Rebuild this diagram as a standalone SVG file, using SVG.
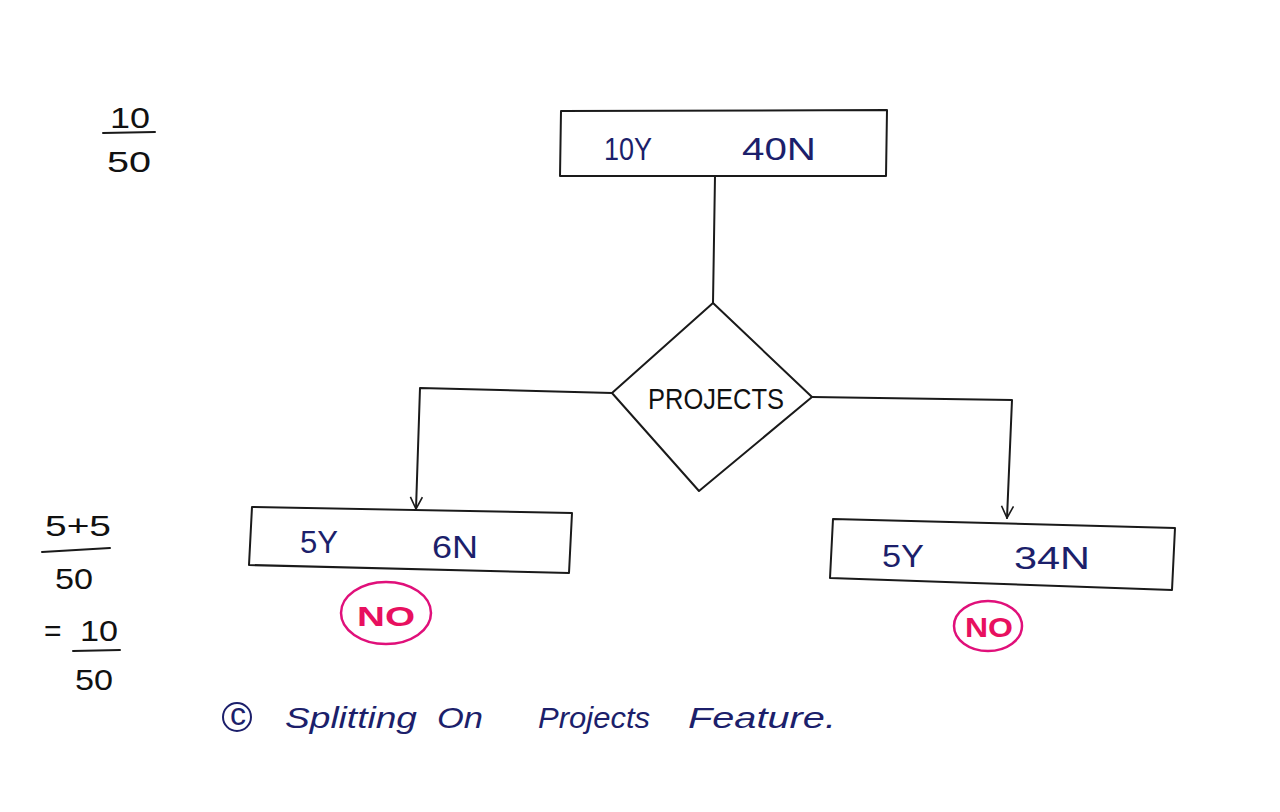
<svg xmlns="http://www.w3.org/2000/svg" width="1280" height="812" viewBox="0 0 1280 812">
<style>
.ln{fill:none;stroke:#1a1a1a;stroke-width:2;stroke-linecap:round;stroke-linejoin:round}
.blue{fill:#1c1f6b;font-family:"Liberation Sans",sans-serif;font-size:32px}
.blk{fill:#111;font-family:"Liberation Sans",sans-serif;font-size:30px}
.pink{fill:none;stroke:#e0107a;stroke-width:2.5}
.pinkt{fill:#e8105f;font-family:"Liberation Sans",sans-serif;font-weight:bold;font-size:28px}
.cap{fill:#1c1f6b;font-family:"Liberation Sans",sans-serif;font-size:30px;font-style:italic}
</style>
<defs>
<marker id="arr" viewBox="0 0 14 14" refX="13" refY="7" markerWidth="14" markerHeight="14" markerUnits="userSpaceOnUse" orient="auto">
<path d="M1,1 L13,7 L1,13" fill="none" stroke="#1a1a1a" stroke-width="1.6"/>
</marker>
</defs>
<rect width="1280" height="812" fill="#fff"/>

<g id="root">
<path class="ln" d="M561,111 L887,110 L886,176 L560,176 Z"/>
<text class="blue" x="604" y="160" textLength="48" lengthAdjust="spacingAndGlyphs">10Y</text>
<text class="blue" x="742" y="160" textLength="74" lengthAdjust="spacingAndGlyphs">40N</text>
</g>

<g id="decision">
<path class="ln" d="M713,303 L812,397 L699,491 L612,393 Z"/>
<text class="blk" x="648" y="409" font-size="26" textLength="136" lengthAdjust="spacingAndGlyphs">PROJECTS</text>
</g>

<g id="left">
<path class="ln" d="M252,507 L572,513 L569,573 L249,565 Z"/>
<text class="blue" x="300" y="553" textLength="38" lengthAdjust="spacingAndGlyphs">5Y</text>
<text class="blue" x="432" y="558" textLength="46" lengthAdjust="spacingAndGlyphs">6N</text>
<ellipse class="pink" cx="386" cy="613" rx="45" ry="31"/>
<text class="pinkt" x="357" y="626" textLength="58" lengthAdjust="spacingAndGlyphs">NO</text>
</g>

<g id="right">
<path class="ln" d="M833,519 L1175,528 L1172,590 L830,578 Z"/>
<text class="blue" x="882" y="567" textLength="42" lengthAdjust="spacingAndGlyphs">5Y</text>
<text class="blue" x="1014" y="569" textLength="76" lengthAdjust="spacingAndGlyphs">34N</text>
<ellipse class="pink" cx="988" cy="626" rx="34" ry="25"/>
<text class="pinkt" x="965" y="637" textLength="48" lengthAdjust="spacingAndGlyphs">NO</text>
</g>

<g id="connectors">
<path class="ln" d="M715,176 L713,303"/>
<path class="ln" d="M612,393 L420,388 L416,509" marker-end="url(#arr)"/>
<path class="ln" d="M812,397 L1012,400 L1007,518" marker-end="url(#arr)"/>
</g>

<g id="calc">
<text class="blk" x="110" y="128" font-size="28" textLength="40" lengthAdjust="spacingAndGlyphs">10</text>
<path class="ln" d="M103,133 L155,132"/>
<text class="blk" x="107" y="172" textLength="44" lengthAdjust="spacingAndGlyphs">50</text>
<text class="blk" x="45" y="536" textLength="66" lengthAdjust="spacingAndGlyphs">5+5</text>
<path class="ln" d="M42,552 L110,548"/>
<text class="blk" x="55" y="589" textLength="38" lengthAdjust="spacingAndGlyphs">50</text>
<text class="blk" x="44" y="641" font-size="28">=</text>
<text class="blk" x="80" y="641" font-size="28" textLength="38" lengthAdjust="spacingAndGlyphs">10</text>
<path class="ln" d="M73,651 L120,650"/>
<text class="blk" x="75" y="690" textLength="38" lengthAdjust="spacingAndGlyphs">50</text>
</g>

<g id="caption">
<circle cx="237" cy="717" r="14" fill="none" stroke="#1c1f6b" stroke-width="2"/>
<text class="blue" x="230" y="725" font-size="20">c</text>
<text class="cap" x="285" y="728" textLength="132" lengthAdjust="spacingAndGlyphs">Splitting</text>
<text class="cap" x="437" y="728" textLength="46" lengthAdjust="spacingAndGlyphs">On</text>
<text class="cap" x="538" y="728" textLength="112" lengthAdjust="spacingAndGlyphs">Projects</text>
<text class="cap" x="688" y="728" textLength="148" lengthAdjust="spacingAndGlyphs">Feature.</text>
</g>
</svg>
